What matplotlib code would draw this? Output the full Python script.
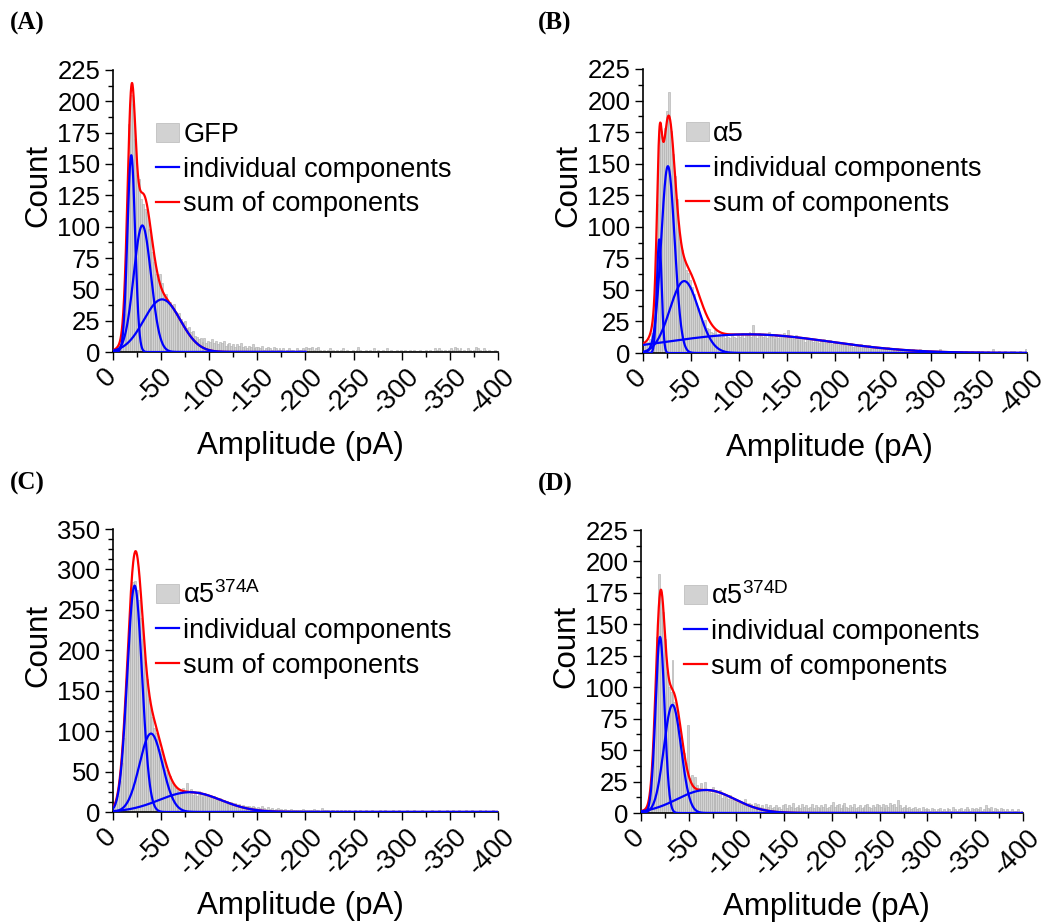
#!/usr/bin/env python3
"""
Amplitude histograms of events with multi-Gaussian fits
(GFP, a5, a5 374A, a5 374D), four panels in a 2x2 grid.
"""

import numpy as np
import matplotlib
matplotlib.use('Agg')
import matplotlib.pyplot as plt
import matplotlib.transforms as mtransforms
from matplotlib.ticker import MultipleLocator

plt.rcParams['font.family'] = ['Liberation Sans', 'DejaVu Sans']
plt.rcParams['mathtext.fontset'] = 'custom'
plt.rcParams['mathtext.rm'] = 'Liberation Sans'
plt.rcParams['mathtext.default'] = 'regular'

# 2 pA bins from 0 to -400 pA
BIN_WIDTH = 2
bin_centers = -(np.arange(200) * BIN_WIDTH + BIN_WIDTH / 2)

# --- counts per bin ---
gfp_counts = [
    1, 2, 3, 6, 14, 30, 68, 118, 182, 205, 198, 170, 141, 138, 122, 118, 114, 112, 98, 93,
    80, 72, 62, 58, 62, 55, 44, 46, 38, 40, 36, 38, 32, 30, 31, 26, 24, 25, 19, 20,
    16, 17, 13, 12, 10, 11, 8, 11, 7, 9,
    8, 10, 7, 9, 6, 8, 7, 9, 5, 6, 7, 5, 6, 4, 6, 5, 7, 4, 5, 3, 5, 4, 6, 3, 4,
    4, 3, 5, 2, 3, 4, 3, 2, 4, 3, 2, 3, 2, 3, 1, 2, 3, 2, 2, 1, 3, 2, 2, 3, 2,
    4, 3, 3, 4, 2, 3, 4, 2, 1, 2, 1, 2, 3, 1, 2, 1, 2, 1, 2, 3, 1, 2, 1, 1, 2,
    1, 2, 4, 2, 1, 1, 2, 1, 2, 1, 3, 1, 2, 1, 1, 2, 1, 3, 1, 2, 1, 1, 2, 1, 2,
    1, 2, 1, 1, 2, 1, 2, 1, 1, 2, 1, 1, 2, 1, 2, 1, 1, 3, 2, 3, 2, 1, 2, 1, 2,
    3, 2, 4, 3, 2, 3, 1, 2, 1, 3, 2, 1, 2, 4, 3, 2, 1, 3, 2, 1, 2, 1, 1, 2, 1,
]
a5_counts = [
    6, 8, 9, 11, 16, 28, 60, 118, 172, 176, 168, 178, 192, 207, 176, 158, 140, 122, 100, 88,
    82, 74, 66, 63, 58, 52, 47, 40, 36, 30, 28, 24, 26, 20, 19, 17, 16, 18, 14, 15,
    13, 15, 12, 14, 13, 12, 15, 13, 12, 14,
    13, 16, 12, 15, 14, 17, 13, 22, 15, 12, 16, 14, 13, 15, 12, 17, 14, 13, 11, 15, 12, 14, 13, 16, 12,
    18, 12, 13, 11, 14, 10, 12, 11, 13, 9, 11, 10, 12, 9, 10, 11, 8, 10, 9, 11, 8, 9, 10, 7, 9,
    8, 9, 7, 8, 6, 8, 7, 6, 8, 5, 7, 6, 5, 7, 6, 5, 4, 6, 5, 4, 5, 4, 5, 3, 4,
    4, 3, 5, 3, 4, 3, 2, 4, 3, 2, 3, 2, 3, 2, 2, 3, 2, 1, 2, 3, 2, 1, 2, 2, 1,
    2, 1, 2, 1, 3, 1, 1, 2, 1, 2, 1, 1, 2, 1, 1, 2, 1, 1, 2, 1, 1, 2, 1, 1, 2,
    1, 2, 1, 1, 2, 1, 1, 3, 1, 1, 2, 1, 1, 2, 1, 1, 2, 1, 2, 1, 1, 2, 1, 1, 3,
]
a5_374a_counts = [
    4, 10, 20, 38, 60, 92, 132, 178, 228, 262, 284, 286, 275, 262, 240, 214, 186, 164, 140, 126,
    118, 104, 98, 90, 78, 72, 66, 52, 48, 44, 36, 34, 30, 26, 28, 24, 30, 26, 36, 22,
    28, 21, 25, 20, 26, 22, 19, 24, 20, 18,
    19, 17, 20, 16, 15, 17, 14, 15, 12, 13, 11, 12, 10, 11, 9, 10, 8, 9, 7, 8, 7, 6, 7, 6, 5,
    6, 5, 7, 5, 4, 6, 4, 5, 3, 4, 5, 3, 4, 3, 4, 2, 3, 4, 2, 3, 2, 3, 2, 4, 2,
    3, 2, 3, 2, 4, 2, 3, 1, 5, 2, 3, 2, 1, 2, 3, 1, 2, 1, 2, 1, 3, 1, 2, 1, 1,
    2, 1, 1, 2, 1, 1, 2, 1, 1, 2, 1, 1, 1, 2, 1, 1, 2, 1, 1, 1, 2, 1, 1, 2, 1,
    1, 1, 2, 1, 1, 1, 2, 1, 1, 1, 2, 1, 1, 1, 1, 2, 1, 1, 1, 2, 1, 1, 1, 2, 1,
    1, 2, 1, 1, 2, 1, 1, 1, 2, 1, 1, 2, 1, 1, 1, 2, 1, 1, 2, 1, 1, 1, 2, 1, 1,
]
a5_374d_counts = [
    2, 2, 3, 5, 12, 24, 50, 92, 140, 190, 176, 160, 138, 112, 100, 96, 122, 88, 84, 76,
    64, 56, 48, 40, 70, 28, 30, 24, 29, 22, 20, 24, 18, 25, 17, 19, 16, 21, 15, 17,
    14, 18, 12, 15, 13, 11, 14, 10, 12, 9,
    10, 8, 9, 7, 11, 6, 8, 7, 5, 8, 6, 7, 5, 6, 4, 7, 5, 6, 4, 5, 6, 4, 5, 3, 6,
    7, 4, 6, 5, 8, 4, 5, 6, 4, 7, 5, 6, 4, 5, 7, 4, 6, 5, 4, 6, 5, 7, 4, 5, 6,
    9, 5, 6, 7, 4, 6, 8, 5, 4, 6, 5, 7, 4, 5, 6, 4, 5, 6, 7, 5, 4, 6, 5, 7, 6,
    5, 7, 4, 6, 5, 8, 6, 7, 5, 10, 6, 4, 5, 6, 4, 5, 3, 4, 5, 3, 4, 2, 5, 3, 4,
    3, 2, 4, 3, 2, 3, 4, 2, 3, 2, 4, 3, 2, 5, 3, 2, 3, 4, 2, 3, 5, 3, 2, 4, 3,
    4, 3, 5, 2, 3, 6, 4, 3, 5, 2, 4, 3, 2, 4, 3, 2, 3, 2, 1, 3, 2, 2, 3, 1, 2,
]

# --- Gaussian components of the fits (peak count, centre pA, width pA) ---
gfp_amp = [157, 101, 42]
gfp_center = [-19, -30.5, -51]
gfp_sigma = [4, 9, 19]

a5_amp = [90, 148, 57, 14.8]
a5_center = [-17, -26, -43, -110]
a5_sigma = [2.5, 7, 15, 85]

a5_374a_amp = [280, 97, 24.5]
a5_374a_center = [-22.5, -39.5, -80]
a5_374a_sigma = [7.7, 12, 32]

a5_374d_amp = [140, 86, 18.3]
a5_374d_center = [-20, -33, -68]
a5_374d_sigma = [4.7, 9, 30]

panel_letters = ['(A)', '(B)', '(C)', '(D)']
series_names = ['GFP', 'α5', 'α5$^{374A}$', 'α5$^{374D}$']
y_tops = [225, 225, 350, 225]
y_steps = [25, 25, 50, 25]
fit_ends = [-200, -400, -400, -400]

# axes rectangles in figure fraction (left, bottom, width, height)
AXES_RECTS = [
    (0.1078, 0.6182, 0.3674, 0.3059),
    (0.6135, 0.6171, 0.3664, 0.3081),
    (0.1078, 0.1193, 0.3674, 0.3069),
    (0.6116, 0.1182, 0.3645, 0.3069),
]
LETTER_POS = [(0.009, 0.975), (0.513, 0.975), (0.009, 0.476), (0.513, 0.475)]


def gaussian(x, amp, center, sigma):
    return amp * np.exp(-(x - center) ** 2 / (2.0 * sigma ** 2))


def plot_panel(fig, ax, counts, amps, centers, sigmas, name, y_top, y_step, fit_end):
    """Histogram plus individual Gaussian components and their sum."""
    bars = ax.bar(bin_centers, counts, width=BIN_WIDTH, color='#d2d2d2',
                  edgecolor='#ababab', linewidth=0.4, label=name, zorder=1)

    x = np.linspace(0, fit_end, 1200)
    comps = [gaussian(x, a, c, s) for a, c, s in zip(amps, centers, sigmas)]
    total = np.sum(comps, axis=0)

    red, = ax.plot(x, total, color='#ff0000', lw=1.6, zorder=3,
                   label='sum of components')
    blue = None
    for comp in comps:
        blue, = ax.plot(x, comp, color='#0000ff', lw=1.6, zorder=4,
                        label='individual components')

    ax.set_xlim(0, -400)
    ax.set_ylim(0, y_top)
    ax.xaxis.set_minor_locator(MultipleLocator(25))
    ax.yaxis.set_major_locator(MultipleLocator(y_step))
    ax.yaxis.set_minor_locator(MultipleLocator(12.5))

    for side in ('top', 'right'):
        ax.spines[side].set_visible(False)
    for side in ('left', 'bottom'):
        ax.spines[side].set_linewidth(1.2)

    ax.tick_params(which='major', direction='out', length=6, width=1.0,
                   labelsize=18.5, pad=3)
    ax.tick_params(which='minor', direction='out', length=3.5, width=1.0)
    ax.tick_params(axis='x', which='major', pad=2)

    xt = np.arange(0, -401, -50)
    ax.set_xticks(xt)
    # slanted labels centred under their ticks
    ax.set_xticklabels([str(int(v)) for v in xt], fontsize=19.5,
                       rotation=45, ha='center', va='top')
    shift = mtransforms.ScaledTranslation(-6 / 100, 0, fig.dpi_scale_trans)
    for lab in ax.get_xticklabels():
        lab.set_transform(lab.get_transform() + shift)

    ax.set_xlabel('Amplitude (pA)', fontsize=22.5)
    ax.set_ylabel('Count', fontsize=22.5)
    ax.xaxis.set_label_coords(0.486, -0.28)
    ax.yaxis.set_label_coords(-0.155, 0.589)

    ax.legend([bars, blue, red], [name, 'individual components', 'sum of components'],
              loc='upper left', bbox_to_anchor=(0.112, 0.817), frameon=False,
              borderaxespad=0, borderpad=0, handlelength=0.85,
              handletextpad=0.15, labelspacing=0.33, fontsize=19.5)


def main():
    fig = plt.figure(figsize=(10.48, 9.22), dpi=100)

    data = [
        (gfp_counts, gfp_amp, gfp_center, gfp_sigma),
        (a5_counts, a5_amp, a5_center, a5_sigma),
        (a5_374a_counts, a5_374a_amp, a5_374a_center, a5_374a_sigma),
        (a5_374d_counts, a5_374d_amp, a5_374d_center, a5_374d_sigma),
    ]

    for i, (counts, amps, centers, sigmas) in enumerate(data):
        ax = fig.add_axes(AXES_RECTS[i])
        plot_panel(fig, ax, counts, amps, centers, sigmas, series_names[i],
                   y_tops[i], y_steps[i], fit_ends[i])
        fig.text(LETTER_POS[i][0], LETTER_POS[i][1], panel_letters[i],
                 family='Liberation Serif', fontweight='bold', fontsize=18,
                 ha='left', va='center')

    fig.savefig('out.png', dpi=100)
    print('saved out.png')


if __name__ == '__main__':
    main()
